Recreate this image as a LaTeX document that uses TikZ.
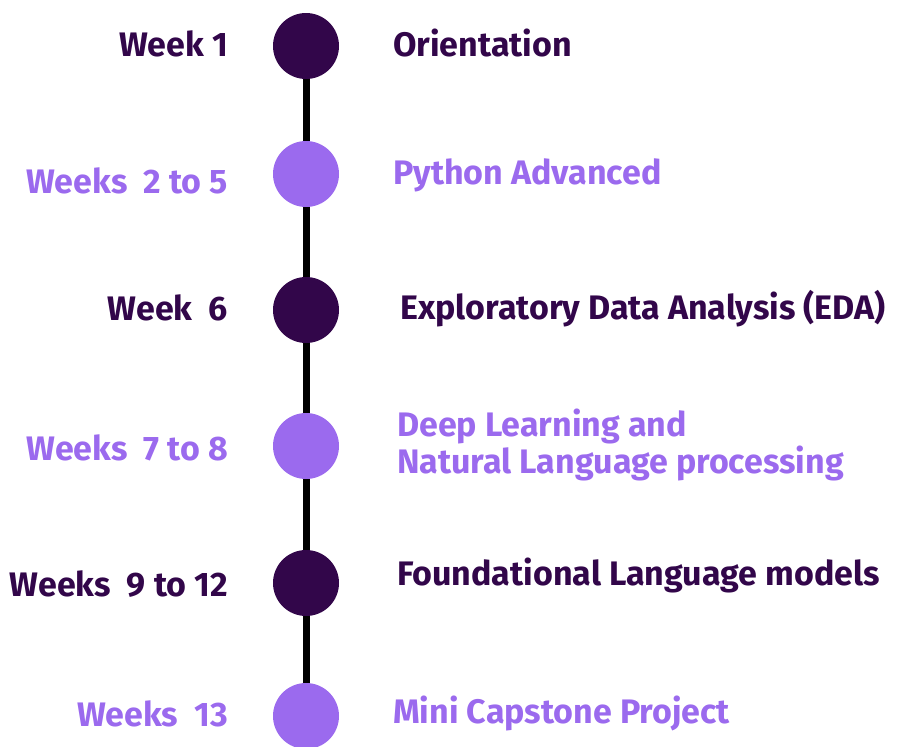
\documentclass[tikz,border=0pt]{standalone}
\usepackage{fontspec}
\setmainfont{Fira Sans}
\definecolor{darkp}{HTML}{32064A}
\definecolor{lightp}{HTML}{9B6AEE}
\begin{document}
\begin{tikzpicture}[x=1pt,y=-1pt,
  dot/.style={circle,minimum size=66pt,inner sep=0pt},
  lbl/.style={inner sep=0pt,font=\fontsize{34}{35}\selectfont\bfseries},
  leftlbl/.style={lbl,anchor=east},
  rightlbl/.style={lbl,anchor=west,align=left},
  conn/.style={line width=7pt,black}]
\useasboundingbox (0,0) rectangle (900,747);
\node[dot] (c1) at (306,46) {};
\node[dot] (c2) at (306,174) {};
\node[dot] (c3) at (306,310) {};
\node[dot] (c4) at (306,446) {};
\node[dot] (c5) at (306,583) {};
\node[dot] (c6) at (306,716) {};
\draw[conn] (c1.center) -- (c6.center);
\fill[darkp] (c1) circle (33);
\fill[lightp] (c2) circle (33);
\fill[darkp] (c3) circle (33);
\fill[lightp] (c4) circle (33);
\fill[darkp] (c5) circle (33);
\fill[lightp] (c6) circle (33);
\node[leftlbl,text=darkp] (l1) at (228,44) {Week 1};
\node[leftlbl,text=lightp] (l2) at (228,181) {Weeks\ \ 2 to 5};
\node[leftlbl,text=darkp] (l3) at (228,308) {Week\ \ 6};
\node[leftlbl,text=lightp] (l4) at (228,448) {Weeks\ \ 7 to 8};
\node[leftlbl,text=darkp] (l5) at (228,584) {Weeks\ \ 9 to 12};
\node[leftlbl,text=lightp] (l6) at (228,714) {Weeks\ \ 13};
\node[rightlbl,text=darkp] (r1) at (393,43) {Orientation};
\node[rightlbl,text=lightp] (r2) at (393,175) {Python Advanced};
\node[rightlbl,text=darkp] (r3) at (400,309) {Exploratory Data Analysis (EDA)};
\node[rightlbl,text=lightp] (r4) at (397,445) {Deep Learning and\\Natural Language processing};
\node[rightlbl,text=darkp] (r5) at (397,575) {Foundational Language models};
\node[rightlbl,text=lightp] (r6) at (393,713) {Mini Capstone Project};
\end{tikzpicture}
\end{document}
